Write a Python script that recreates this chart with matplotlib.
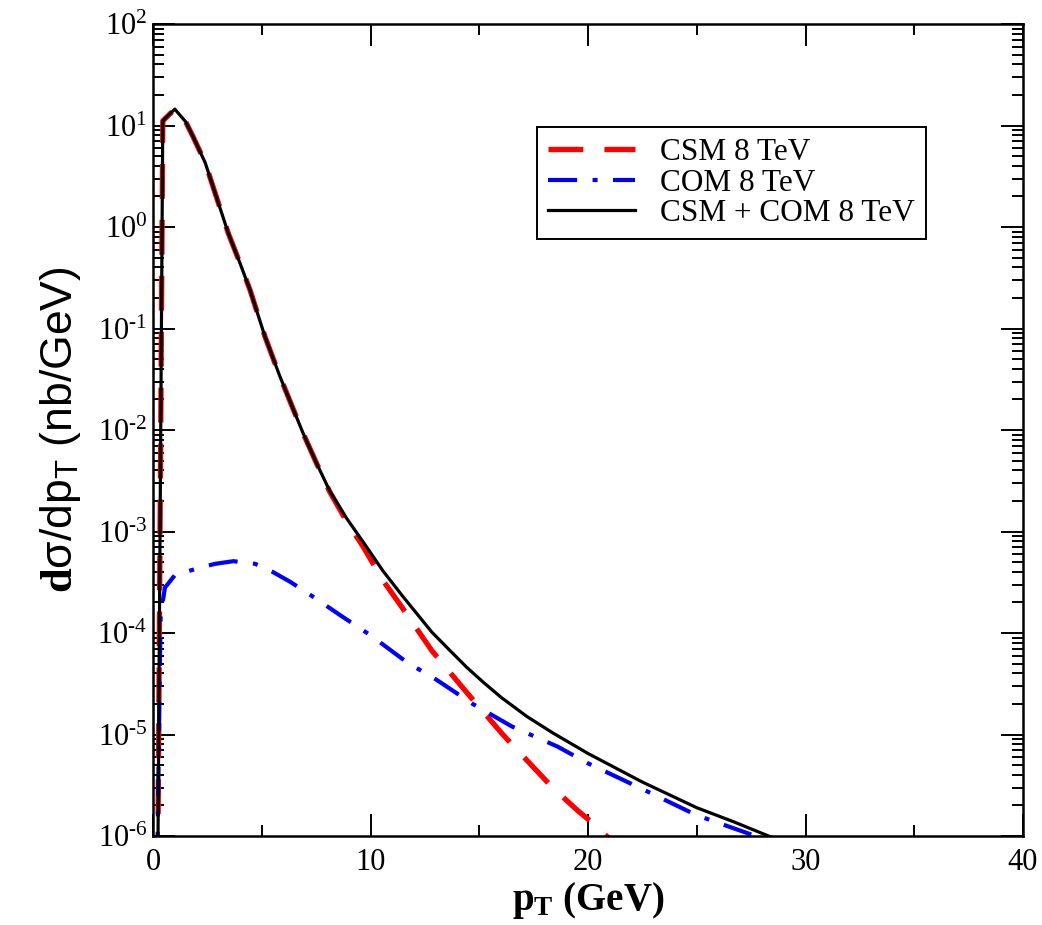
import numpy as np
import matplotlib.pyplot as plt
from matplotlib.ticker import LogLocator, MultipleLocator

plt.rcParams['mathtext.fontset'] = 'custom'
plt.rcParams['mathtext.rm'] = 'Liberation Serif'
plt.rcParams['mathtext.it'] = 'Liberation Serif:italic'
plt.rcParams['mathtext.bf'] = 'Liberation Serif:bold'
plt.rcParams['mathtext.sf'] = 'Liberation Sans'
plt.rcParams['font.family'] = ['Liberation Serif', 'DejaVu Serif']

# CSM 8 TeV (red dashed)
pt_csm = [0.2, 0.45, 1.0, 1.5, 1.85, 2.4, 3.0, 3.46, 4.0, 4.46, 5.15, 5.84, 6.4, 6.9, 7.5,
          8.13, 8.9, 9.66, 10.57, 11.44, 12.82, 14.42, 16.03, 16.7, 18.37, 19.5, 20.2,
          20.85, 21.5]
sig_csm = [1e-7, 11.1, 14.5, 10.9, 7.7, 4.3, 1.74, 0.87, 0.44, 0.24, 0.083, 0.0335, 0.017,
           9.3e-3, 4.8e-3, 2.45e-3, 1.26e-3, 7.1e-4, 3.3e-4, 1.8e-4, 6.7e-5, 2.6e-5, 1.03e-5,
           7.2e-6, 3.0e-6, 1.8e-6, 1.35e-6, 1.0e-6, 7.6e-7]

# COM 8 TeV (blue dash-dot)
pt_com = [0.15, 0.35, 0.55, 1.0, 1.5, 2.0, 2.85, 3.7, 4.7, 5.5, 6.3, 7.2, 7.9, 8.6, 10.0,
          11.7, 13.0, 14.7, 16.5, 18.6, 20.0, 22.5, 25.0, 27.7, 28.3]
sig_com = [1e-7, 1.5e-4, 2.8e-4, 3.7e-4, 4.0e-4, 4.3e-4, 4.8e-4, 5.1e-4, 4.8e-4, 4.0e-4,
           3.2e-4, 2.4e-4, 1.9e-4, 1.5e-4, 9.5e-5, 5.1e-5, 3.5e-5, 2.0e-5, 1.2e-5, 7.6e-6,
           5.2e-6, 2.9e-6, 1.6e-6, 1.0e-6, 8.8e-7]

# CSM + COM 8 TeV (black solid)
pt_tot = [0.2, 0.45, 1.0, 1.5, 1.85, 2.4, 3.0, 3.46, 4.0, 4.46, 5.15, 5.84, 6.4, 6.9, 7.5,
          8.13, 8.9, 9.66, 10.57, 11.44, 12.82, 13.6, 14.42, 15.2, 16.03, 17.2, 18.37,
          20.0, 22.5, 25.0, 26.7, 28.3, 29.0]
sig_tot = [1e-7, 11.1, 14.5, 10.9, 7.7, 4.3, 1.74, 0.87, 0.44, 0.24, 0.083, 0.0335, 0.017,
           9.3e-3, 4.8e-3, 2.5e-3, 1.35e-3, 7.9e-4, 4.1e-4, 2.36e-4, 1.02e-4, 6.9e-5, 4.6e-5,
           3.25e-5, 2.3e-5, 1.5e-5, 1.04e-5, 6.5e-6, 3.4e-6, 1.9e-6, 1.38e-6, 1.0e-6, 8.8e-7]

fig = plt.figure(figsize=(10.42, 9.25), dpi=100)
ax = fig.add_axes([153/1042, 1 - 836/925, 870/1042, 812/925])

ax.plot(pt_csm, sig_csm, color='red', lw=3.8, dashes=(6.6, 4.0),
        label='CSM 8 TeV', dash_capstyle='butt')
ax.plot(pt_com, sig_com, color='blue', lw=3.0, dashes=(7, 3.7, 1.2, 3.7),
        label='COM 8 TeV', dash_capstyle='butt')
ax.plot(pt_tot, sig_tot, color='black', lw=2.3, label='CSM + COM 8 TeV')

ax.set_yscale('log')
ax.set_xlim(0, 40)
ax.set_ylim(1e-6, 1e2)

ax.xaxis.set_major_locator(MultipleLocator(10))
ax.xaxis.set_minor_locator(MultipleLocator(5))
ax.yaxis.set_minor_locator(LogLocator(base=10, subs=np.arange(2, 10), numticks=20))
ax.set_yticks([10.0**k for k in range(-6, 3)])
ax.set_yticklabels([r'$10^{\text{%d}}$' % k for k in range(-6, 3)])

ax.tick_params(which='both', direction='in', top=True, right=True, labelsize=22,
               width=1.4)
ax.tick_params(axis='y', pad=4)
ax.tick_params(axis='x', pad=9)
ax.tick_params(which='major', length=16)
ax.tick_params(which='minor', length=8)
for sp in ax.spines.values():
    sp.set_linewidth(1.8)

ax.set_xlabel(r'$\mathbf{p_T}$ (GeV)', fontsize=28, fontweight='bold', labelpad=2)
ax.set_ylabel(r'$\mathbf{d}$σ/dp$_\mathsf{T}$ (nb/GeV)', fontsize=32,
              family=['Liberation Sans', 'DejaVu Sans'], labelpad=10)

leg = ax.legend(loc='upper left', bbox_to_anchor=(0.441, 0.873), borderaxespad=0,
                fontsize=22.5, handlelength=2.8, handletextpad=0.8, labelspacing=0.05,
                fancybox=False, framealpha=1, edgecolor='black', borderpad=0.35)
leg.get_frame().set_linewidth(1.4)

fig.savefig('out.png', dpi=100)
